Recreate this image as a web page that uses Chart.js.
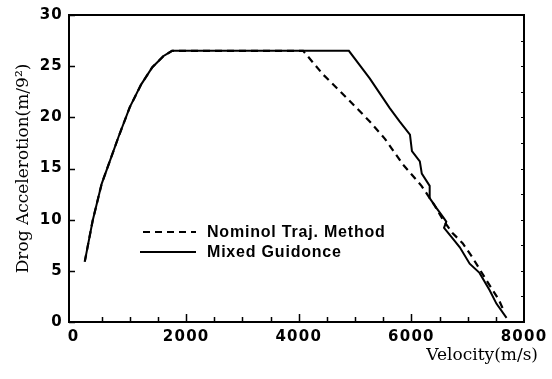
<!DOCTYPE html>
<html><head><meta charset="utf-8">
<script src="https://cdn.jsdelivr.net/npm/chart.js@4/dist/chart.umd.min.js"></script>
<style>html,body{margin:0;padding:0;background:#fff}#wrap{width:552px;height:379px;position:relative}</style>
</head><body><div id="wrap"><canvas id="c"></canvas></div>
<script>
const seriesNames = ['Nominol Traj. Method', 'Mixed Guidonce'];
const nominalV = [200, 340, 500, 650, 800, 1000, 1200, 1400, 1600, 1750, 4078, 4430, 4870, 5260, 5530, 5850, 6180, 6400, 6560, 6730, 6910, 7085, 7330, 7550, 7650];
const nominalA = [5.9, 9.9, 13.5, 15.8, 18.1, 21.0, 23.2, 24.9, 26.0, 26.5, 26.5, 24.2, 21.8, 19.6, 17.9, 15.4, 13.3, 11.5, 10.0, 8.7, 7.7, 6.3, 4.1, 2.2, 1.0];
const mixedV = [200, 340, 500, 650, 800, 1000, 1200, 1400, 1600, 1750, 4890, 5260, 5616, 5790, 5975, 6010, 6150, 6185, 6325, 6325, 6450, 6570, 6620, 6580, 6700, 6860, 7035, 7210, 7390, 7510, 7690];
const mixedA = [5.9, 9.9, 13.5, 15.8, 18.1, 21.0, 23.2, 24.9, 26.0, 26.5, 26.5, 23.8, 20.9, 19.6, 18.3, 16.7, 15.7, 14.5, 13.3, 12.1, 11.1, 10.2, 9.8, 9.2, 8.4, 7.3, 5.7, 4.8, 3.1, 1.8, 0.4];
const xTickValues = [0, 2000, 4000, 6000, 8000];
const xMinorTickValues = [500, 1000, 1500, 2000, 2500, 3000, 3500, 4000, 4500, 5000, 5500, 6000, 6500, 7000, 7500];
const xMajorTickValues = [2000, 4000, 6000];
const yTickValues = [0, 5, 10, 15, 20, 25, 30];
const yRightTickValues = [2.5, 5, 7.5, 10, 12.5, 15, 17.5, 20, 22.5, 25, 27.5];
const xTitle = 'Velocity(m/s)';
const yTitle = 'Drog Accelerotion(m/9\u00B2)';

const toPts = (vs, as) => vs.map((v, i) => ({x: v, y: as[i]}));

const framePlugin = {
  id: 'frameTicks',
  afterDatasetsDraw(chart) {
    const {ctx, chartArea: a, scales: {x, y}} = chart;
    ctx.save();
    ctx.strokeStyle = '#000';
    ctx.lineWidth = 2;
    ctx.strokeRect(a.left, a.top, a.right - a.left, a.bottom - a.top);
    ctx.lineWidth = 1.5;
    ctx.beginPath();
    xMinorTickValues.forEach(v => {
      const px = Math.round(x.getPixelForValue(v)) + 0.5;
      const len = xMajorTickValues.includes(v) ? 8 : 5;
      ctx.moveTo(px, a.bottom); ctx.lineTo(px, a.bottom - len);
    });
    yTickValues.forEach(v => {
      const py = Math.round(y.getPixelForValue(v)) + 0.5;
      ctx.moveTo(a.left, py); ctx.lineTo(a.left + 6, py);
    });
    ctx.stroke();
    ctx.lineWidth = 1;
    ctx.beginPath();
    yRightTickValues.forEach(v => {
      const py = Math.round(y.getPixelForValue(v)) + 0.5;
      ctx.moveTo(a.right, py); ctx.lineTo(a.right - 3, py);
    });
    ctx.stroke();
    ctx.restore();
    ctx.letterSpacing = '1.2px';
  },
  afterDraw(chart) {
    const {ctx, chartArea: a} = chart;
    ctx.letterSpacing = '0px';
    ctx.save();
    // legend
    const rows = [a.top + 217, a.top + 237];
    chart.data.datasets.forEach((ds, i) => {
      const ly = rows[i];
      ctx.strokeStyle = '#000';
      ctx.lineWidth = 2;
      ctx.setLineDash(ds.borderDash || []);
      ctx.beginPath();
      ctx.moveTo(a.left + (i === 0 ? 74 : 71), ly);
      ctx.lineTo(a.left + 127, ly);
      ctx.stroke();
      ctx.setLineDash([]);
      ctx.fillStyle = '#000';
      ctx.font = 'bold 16px "Liberation Sans", Arial, sans-serif';
      ctx.letterSpacing = '0.8px';
      ctx.textAlign = 'left';
      ctx.textBaseline = 'middle';
      ctx.fillText(ds.label, a.left + 138, ly + 1);
    });
    // x axis title
    ctx.letterSpacing = '0px';
    ctx.font = '17px "DejaVu Serif", serif';
    ctx.textAlign = 'right';
    ctx.textBaseline = 'middle';
    ctx.fillText(xTitle, a.right + 14, a.bottom + 34);
    ctx.restore();
  }
};

new Chart(document.getElementById('c'), {
  type: 'scatter',
  data: {
    datasets: [
      {label: seriesNames[0], data: toPts(nominalV, nominalA), showLine: true, borderColor: '#000', borderWidth: 2.2, borderDash: [7, 5], pointRadius: 0, fill: false, tension: 0},
      {label: seriesNames[1], data: toPts(mixedV, mixedA), showLine: true, borderColor: '#000', borderWidth: 2, pointRadius: 0, fill: false, tension: 0}
    ]
  },
  options: {
    responsive: true,
    maintainAspectRatio: false,
    animation: false,
    layout: {padding: {left: 0, top: 13, right: 28, bottom: 0}},
    plugins: {legend: {display: false}, tooltip: {enabled: false}},
    scales: {
      x: {
        type: 'linear', min: -80, max: 8000,
        afterBuildTicks: s => { s.ticks = xTickValues.map(v => ({value: v})); },
        afterFit: s => { s.height = 57; },
        grid: {display: false, drawTicks: false},
        border: {display: false},
        ticks: {z: 1, padding: 6, color: '#000', callback: v => String(v), font: {family: '"DejaVu Sans", sans-serif', weight: 'bold', size: 15}, maxRotation: 0, autoSkip: false},
        title: {display: false, text: xTitle}
      },
      y: {
        type: 'linear', min: 0, max: 30,
        afterBuildTicks: s => { s.ticks = yTickValues.map(v => ({value: v})); },
        afterFit: s => { s.width = 69; },
        grid: {display: false, drawTicks: false},
        border: {display: false},
        ticks: {z: 1, padding: 6, color: '#000', callback: v => String(v), font: {family: '"DejaVu Sans", sans-serif', weight: 'bold', size: 15}, autoSkip: false},
        title: {display: true, text: yTitle, color: '#000', font: {family: '"DejaVu Serif", serif', size: 17}, padding: {top: 13, bottom: 0}}
      }
    }
  },
  plugins: [framePlugin]
});
</script>
</body></html>
